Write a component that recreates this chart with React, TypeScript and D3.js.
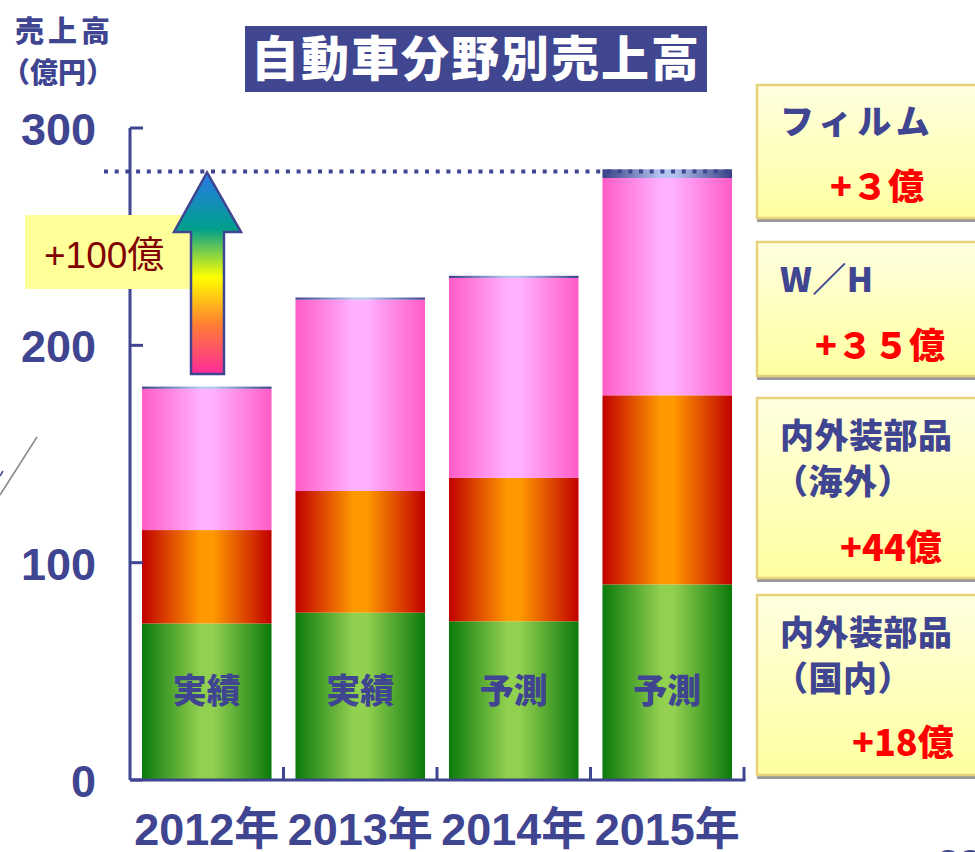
import { useEffect, useRef } from "react";
import * as d3 from "d3";

// categories and series (億円)
const years = ["2012年", "2013年", "2014年", "2015年"];
const barNotes = ["実績", "実績", "予測", "予測"];
const domestic = [72, 77, 73, 90]; // 内外装部品（国内）
const overseas = [43, 56, 66, 87]; // 内外装部品（海外）
const wh = [65, 88, 92, 100]; // W／H
const film = [1, 1, 1, 4]; // フィルム
const yTicks = [0, 100, 200, 300];
const targetLine = 280;

const legendItems = [
  { lines: ["フィルム"], delta: "+３億" },
  { lines: ["W／H"], delta: "+３５億" },
  { lines: ["内外装部品", "（海外）"], delta: "+44億" },
  { lines: ["内外装部品", "（国内）"], delta: "+18億" },
];

const W = 975;
const H = 852;
const navy = "#3f4590";
const latin = "'Liberation Sans', Arial, 'Noto Sans CJK JP', sans-serif";
const cjk = "'Noto Sans CJK JP', 'Liberation Sans', sans-serif";

const seriesKeys = ["domestic", "overseas", "wh", "film"];
const grads: Record<string, [string, string]> = {
  domestic: ["#0b7a0b", "#92d050"],
  overseas: ["#c00000", "#ff9900"],
  wh: ["#ff5cc6", "#ffb0ff"],
  film: ["#3a4088", "#b4c4f0"],
};

function App() {
  const svgRef = useRef<SVGSVGElement>(null);

  useEffect(() => {
    const svg = d3.select(svgRef.current);
    svg.selectAll("*").remove();

    const x0 = 130, x1 = 744, yBottom = 780, yTop = 128;
    const x = d3.scaleBand().domain(years).range([x0, x1]).paddingInner(0.156).paddingOuter(0.078);
    const y = d3.scaleLinear().domain([0, 300]).range([yBottom, yTop]);

    const defs = svg.append("defs");
    Object.entries(grads).forEach(([k, [edge, mid]]) => {
      const g = defs.append("linearGradient").attr("id", "g-" + k).attr("x1", 0).attr("x2", 1).attr("y1", 0).attr("y2", 0);
      g.append("stop").attr("offset", "0%").attr("stop-color", edge);
      g.append("stop").attr("offset", "45%").attr("stop-color", mid);
      g.append("stop").attr("offset", "55%").attr("stop-color", mid);
      g.append("stop").attr("offset", "100%").attr("stop-color", edge);
    });
    const ag = defs.append("linearGradient").attr("id", "g-arrow").attr("x1", 0).attr("x2", 0).attr("y1", 0).attr("y2", 1);
    [["0%", "#2a78e8"], ["28%", "#00a08c"], ["52%", "#ffff00"], ["75%", "#ff8030"], ["100%", "#ff2a9a"]].forEach(([o, c]) =>
      ag.append("stop").attr("offset", o).attr("stop-color", c)
    );
    const lg = defs.append("linearGradient").attr("id", "g-legend").attr("x1", 0).attr("x2", 0).attr("y1", 0).attr("y2", 1);
    lg.append("stop").attr("offset", "0%").attr("stop-color", "#ffffe0");
    lg.append("stop").attr("offset", "100%").attr("stop-color", "#ffffa0");

    // stacked bars
    const rows = years.map((yr, i) => ({
      year: yr,
      domestic: domestic[i],
      overseas: overseas[i],
      wh: wh[i],
      film: film[i],
    }));
    const stacked = d3.stack<any>().keys(seriesKeys)(rows);
    stacked.forEach((layer) => {
      svg
        .append("g")
        .selectAll("rect")
        .data(layer)
        .join("rect")
        .attr("x", (d: any) => x(d.data.year)!)
        .attr("width", x.bandwidth())
        .attr("y", (d) => y(d[1]))
        .attr("height", (d) => y(d[0]) - y(d[1]))
        .attr("fill", `url(#g-${layer.key})`);
    });

    // notes inside bars
    svg
      .append("g")
      .selectAll("text")
      .data(years)
      .join("text")
      .attr("x", (d) => x(d)! + x.bandwidth() / 2)
      .attr("y", 703)
      .attr("text-anchor", "middle")
      .attr("font-family", cjk)
      .attr("font-weight", 900)
      .attr("font-size", 34)
      .attr("fill", navy)
      .text((_, i) => barNotes[i]);

    // dotted target line
    svg
      .append("line")
      .attr("x1", 104)
      .attr("x2", x(years[3])! + x.bandwidth())
      .attr("y1", y(targetLine))
      .attr("y2", y(targetLine))
      .attr("stroke", navy)
      .attr("stroke-width", 4)
      .attr("stroke-dasharray", "4 6.7");

    // y axis
    const yAxis = svg.append("g");
    yAxis.append("line").attr("x1", x0).attr("x2", x0).attr("y1", yTop).attr("y2", yBottom).attr("stroke", navy).attr("stroke-width", 3);
    yAxis
      .selectAll("line.tick")
      .data(yTicks)
      .join("line")
      .attr("class", "tick")
      .attr("x1", x0)
      .attr("x2", x0 + 13)
      .attr("y1", (d) => y(d))
      .attr("y2", (d) => y(d))
      .attr("stroke", navy)
      .attr("stroke-width", 3);
    yAxis
      .selectAll("text")
      .data(yTicks)
      .join("text")
      .attr("x", 96)
      .attr("y", (d) => y(d) + 17)
      .attr("text-anchor", "end")
      .attr("font-family", latin)
      .attr("font-weight", 700)
      .attr("font-size", 45)
      .attr("fill", navy)
      .text((d) => d);

    // x axis
    const xAxis = svg.append("g");
    xAxis.append("line").attr("x1", x0).attr("x2", x1 + 1.5).attr("y1", yBottom).attr("y2", yBottom).attr("stroke", navy).attr("stroke-width", 3);
    xAxis
      .selectAll("line.tick")
      .data(years)
      .join("line")
      .attr("class", "tick")
      .attr("x1", (d) => x(d)! + x.step() - x.step() * 0.078)
      .attr("x2", (d) => x(d)! + x.step() - x.step() * 0.078)
      .attr("y1", yBottom - 13)
      .attr("y2", yBottom)
      .attr("stroke", navy)
      .attr("stroke-width", 3);
    xAxis
      .selectAll("text")
      .data(years)
      .join("text")
      .attr("x", (d) => x(d)! + x.bandwidth() / 2)
      .attr("y", 845)
      .attr("text-anchor", "middle")
      .attr("font-family", latin)
      .attr("font-weight", 700)
      .attr("font-size", 45)
      .attr("fill", navy)
      .text((d) => d);

    // +100億 label and arrow
    svg.append("rect").attr("x", 25).attr("y", 215).attr("width", 165).attr("height", 74).attr("fill", "#ffff99");
    svg
      .append("text")
      .attr("x", 44)
      .attr("y", 268)
      .attr("font-family", latin)
      .attr("font-size", 37)
      .attr("fill", "#800000")
      .text("+100億");
    const ax = 207;
    const tip = y(targetLine) + 1;
    const arrow = d3.path();
    arrow.moveTo(ax, tip);
    arrow.lineTo(ax + 34, 232);
    arrow.lineTo(ax + 17, 232);
    arrow.lineTo(ax + 17, 374);
    arrow.lineTo(ax - 16, 374);
    arrow.lineTo(ax - 16, 232);
    arrow.lineTo(ax - 33, 232);
    arrow.closePath();
    svg.append("path").attr("d", arrow.toString()).attr("fill", "url(#g-arrow)").attr("stroke", navy).attr("stroke-width", 2.5).attr("stroke-linejoin", "miter");

    // y axis title
    svg.append("text").attr("x", 15).attr("y", 42).attr("font-family", cjk).attr("font-weight", 900).attr("font-size", 29).attr("letter-spacing", 4).attr("fill", navy).text("売上高");
    svg.append("text").attr("x", 2).attr("y", 83).attr("font-family", cjk).attr("font-weight", 900).attr("font-size", 28).attr("fill", navy).text("（億円）");

    // chart title
    svg.append("rect").attr("x", 245).attr("y", 26).attr("width", 462).attr("height", 66).attr("fill", "#404690");
    svg
      .append("text")
      .attr("x", 476)
      .attr("y", 76)
      .attr("text-anchor", "middle")
      .attr("font-family", cjk)
      .attr("font-weight", 900)
      .attr("font-size", 48)
      .attr("letter-spacing", 2)
      .attr("fill", "#ffffff")
      .text("自動車分野別売上高");

    // legend boxes
    const boxes = [
      { y: 85, h: 133, lineY: [134], deltaY: 200, deltaX: 830 },
      { y: 242, h: 134, lineY: [292], deltaY: 359, deltaX: 815 },
      { y: 398, h: 180, lineY: [448, 494], deltaY: 561, deltaX: 840 },
      { y: 595, h: 180, lineY: [645, 691], deltaY: 756, deltaX: 852 },
    ];
    const lgG = svg.append("g");
    legendItems.forEach((item, i) => {
      const b = boxes[i];
      lgG.append("rect").attr("x", 757).attr("y", b.y + b.h).attr("width", 230).attr("height", 4).attr("fill", "#9a9a9a");
      lgG
        .append("rect")
        .attr("x", 757)
        .attr("y", b.y)
        .attr("width", 240)
        .attr("height", b.h)
        .attr("fill", "url(#g-legend)")
        .attr("stroke", "#e6d27a")
        .attr("stroke-width", 2.5);
      item.lines.forEach((ln, j) => {
        lgG
          .append("text")
          .attr("x", j === 0 ? 780 : 774)
          .attr("y", b.lineY[j])
          .attr("font-family", cjk)
          .attr("font-weight", 900)
          .attr("font-size", 34)
          .attr("letter-spacing", i === 0 ? 5 : 0.5)
          .attr("fill", navy)
          .text(ln);
      });
      lgG
        .append("text")
        .attr("x", b.deltaX)
        .attr("y", b.deltaY)
        .attr("font-family", cjk)
        .attr("font-weight", 900)
        .attr("font-size", 36)
        .attr("fill", "#ff0000")
        .text(item.delta);
    });

    // left edge stroke and page number fragment
    svg.append("line").attr("x1", 37).attr("y1", 437).attr("x2", 0).attr("y2", 495).attr("stroke", "#888").attr("stroke-width", 1.5);
    svg.append("line").attr("x1", 3).attr("y1", 471).attr("x2", 0).attr("y2", 476).attr("stroke", navy).attr("stroke-width", 1.5);
    svg.append("text").attr("x", 937).attr("y", 878).attr("font-family", latin).attr("font-weight", 700).attr("font-size", 40).attr("fill", navy).text("23");
  }, []);

  return (
    <svg
      ref={svgRef}
      width={W}
      height={H}
      style={{ position: "absolute", left: 0, top: 0, background: "#fff" }}
    />
  );
}

export default App;
